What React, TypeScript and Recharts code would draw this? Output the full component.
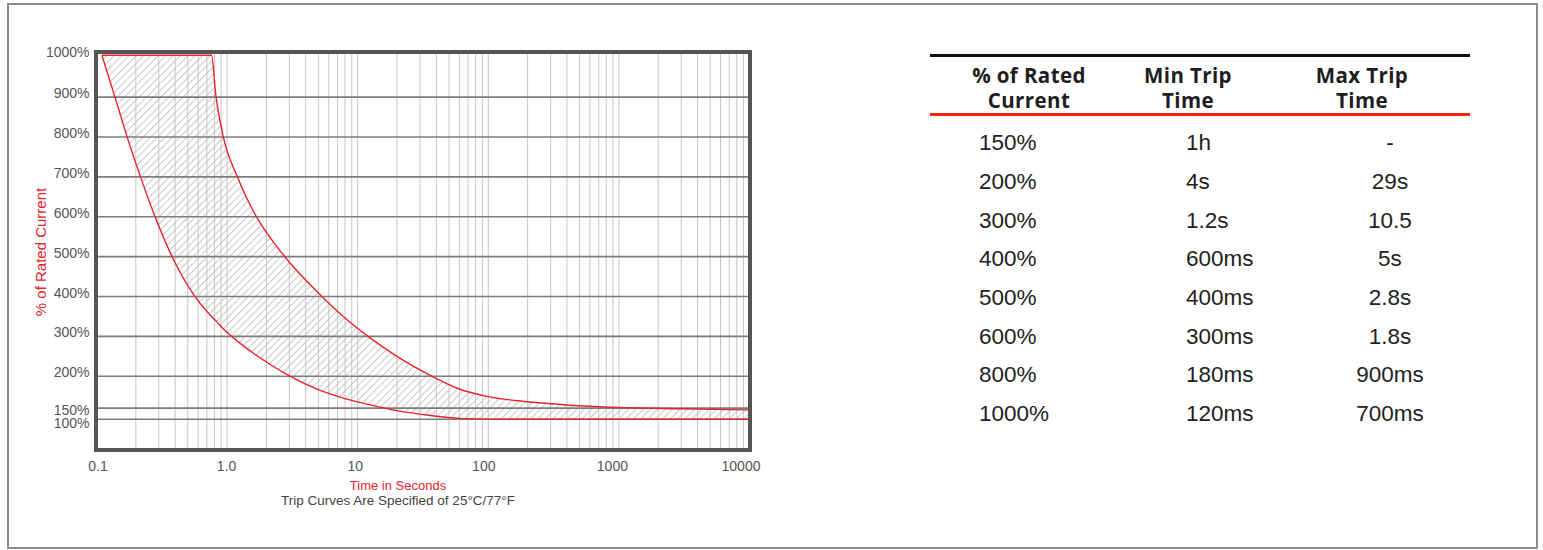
import React from "react";
import { Area, ComposedChart, Line, ReferenceLine, XAxis, YAxis } from "recharts";

const TIMES = [0.11, 0.14, 0.18, 0.22, 0.28, 0.38, 0.57, 0.76, 0.82, 0.93, 1.2, 1.6, 2.2, 3, 5, 8, 12, 20, 35, 60, 100, 200, 400, 1000, 3000, 10000];
// % of rated current on the min (left) curve and on the max (right) edge of the band
const MIN_CURVE = [1000, 895, 779, 695, 601, 499, 399, 350, 339, 320, 288, 257, 227, 201, 179, 165, 156, 139, 118, 104, 101, 100, 100, 100, 100, 100];
const MAX_CURVE = [1000, 1000, 1000, 1000, 1000, 1000, 1000, 1000, 905, 804, 700, 612, 542, 486, 409, 346, 300, 250, 204, 180, 168, 160, 155, 151, 147, 142];

const X_TICKS = [0.1, 1, 10, 100, 1000, 10000];
const X_MINOR = [2, 3, 4, 5, 6, 7, 8, 9];

// the y axis is not linear: 100/150/200 are squeezed at the bottom
const PCT_TICKS = [100, 150, 200, 300, 400, 500, 600, 700, 800, 900, 1000];
const PCT_POS = [92, 120, 200, 300, 400, 500, 600, 700, 800, 900, 1005];
const Y_DOMAIN = [15, 1012];

// table
const RATED = ["150%", "200%", "300%", "400%", "500%", "600%", "800%", "1000%"];
const MIN_TRIP = ["1h", "4s", "1.2s", "600ms", "400ms", "300ms", "180ms", "120ms"];
const MAX_TRIP = ["-", "29s", "10.5", "5s", "2.8s", "1.8s", "900ms", "700ms"];

const RED = "#e8232b";
const SANS = "'Liberation Sans', Arial, sans-serif";

const toPos = (pct: number) => {
  for (let i = 1; i < PCT_TICKS.length; i++) {
    if (pct <= PCT_TICKS[i]) {
      const a = PCT_TICKS[i - 1];
      const b = PCT_TICKS[i];
      return PCT_POS[i - 1] + ((pct - a) / (b - a)) * (PCT_POS[i] - PCT_POS[i - 1]);
    }
  }
  return PCT_POS[PCT_POS.length - 1];
};

const data = TIMES.map((t, i) => ({
  t,
  lo: toPos(MIN_CURVE[i]),
  hi: toPos(MAX_CURVE[i]),
  band: [toPos(MIN_CURVE[i]), toPos(MAX_CURVE[i])],
}));

const gridX: number[] = [];
X_TICKS.slice(0, -1).forEach((d) => {
  if (d > 0.1) gridX.push(d);
  X_MINOR.forEach((m) => gridX.push(+(d * m).toPrecision(3)));
});

const YTick = ({ x, y, payload }: any) => {
  const pct = PCT_TICKS[PCT_POS.indexOf(payload.value)];
  const nudge = pct === 1000 ? -3 : pct === 150 ? 2 : pct === 100 ? 4 : -4;
  return (
    <text x={x} y={y + nudge} textAnchor="end" dominantBaseline="central" fontSize={14} fill="#555" fontFamily={SANS}>
      {pct}%
    </text>
  );
};

// labels sit a little left of their decade line, more so to the right
const XTick = ({ x, y, payload }: any) => {
  const k = X_TICKS.indexOf(payload.value);
  return (
    <text x={x + 1.5 - 2 * k} y={y} dy="0.71em" textAnchor="middle" fontSize={14} fill="#555" fontFamily={SANS}>
      {payload.value === 0.1 ? "0.1" : payload.value === 1 ? "1.0" : payload.value}
    </text>
  );
};

const TripChart = () => (
  <div style={{ position: "absolute", left: 0, top: 0 }}>
    <ComposedChart width={800} height={500} data={data} margin={{ top: 52.5, right: 50.5, bottom: 0, left: 0 }}>
      <defs>
        <pattern id="hatch" patternUnits="userSpaceOnUse" width={5.2} height={10} patternTransform="rotate(45)">
          <line x1={0.5} y1={0} x2={0.5} y2={10} stroke="#a2a2a2" strokeWidth={1} />
        </pattern>
      </defs>
      <XAxis
        dataKey="t"
        type="number"
        scale="log"
        domain={[0.1, 10000]}
        ticks={X_TICKS}
        interval={0}
        allowDataOverflow
        axisLine={false}
        tickLine={false}
        tickSize={0}
        tickMargin={11}
        height={50}
        tick={<XTick />}
      />
      <YAxis
        type="number"
        domain={Y_DOMAIN}
        ticks={PCT_TICKS.map(toPos)}
        interval={0}
        allowDataOverflow
        axisLine={false}
        tickLine={false}
        tickSize={0}
        tickMargin={7}
        width={96.5}
        tick={<YTick />}
      />
      {gridX.map((v) => (
        <ReferenceLine key={"x" + v} x={v} stroke="#c6c6c6" strokeWidth={1} />
      ))}
      {PCT_TICKS.slice(0, -1).map((p) => (
        <ReferenceLine key={"y" + p} y={toPos(p)} stroke="#7d7d7d" strokeWidth={1.6} />
      ))}
      <Area dataKey="band" type="monotone" stroke="none" fill="url(#hatch)" isAnimationActive={false} />
      <Line dataKey="lo" type="monotone" stroke={RED} strokeWidth={1.4} dot={false} isAnimationActive={false} />
      <Line dataKey="hi" type="monotone" stroke={RED} strokeWidth={1.4} dot={false} isAnimationActive={false} />
    </ComposedChart>
    <div
      style={{
        position: "absolute", left: 94.25, top: 50.25, width: 657.5, height: 402,
        border: "4.5px solid #555", boxSizing: "border-box", pointerEvents: "none",
      }}
    />
    <div
      style={{
        position: "absolute", left: 40, top: 252, transform: "translate(-50%, -50%) rotate(-90deg)",
        whiteSpace: "nowrap", color: RED, fontSize: 15, fontFamily: SANS,
      }}
    >
      % of Rated Current
    </div>
    <div style={{ position: "absolute", left: 198, width: 400, top: 478, textAlign: "center", color: RED, fontSize: 13, fontFamily: SANS }}>
      Time in Seconds
    </div>
    <div style={{ position: "absolute", left: 198, width: 400, top: 493, textAlign: "center", color: "#444", fontSize: 13.5, fontFamily: SANS }}>
      Trip Curves Are Specified of 25°C/77°F
    </div>
  </div>
);

const ROW_TOP = 130.2;
const ROW_STEP = 38.7;
const cell = { position: "absolute" as const, fontSize: 22.5, lineHeight: "26px", fontFamily: SANS, color: "#222", whiteSpace: "nowrap" as const };

const TripTable = () => (
  <div style={{ position: "absolute", left: 930, top: 0, width: 540 }}>
    <div style={{ position: "absolute", top: 53.5, left: 0, width: 540, height: 3, background: "#111" }} />
    {[
      ["% of Rated", "Current", 1029],
      ["Min Trip", "Time", 1188],
      ["Max Trip", "Time", 1362],
    ].map(([a, b, cx]) => (
      <div
        key={a as string}
        style={{
          position: "absolute", left: (cx as number) - 930 - 100, width: 200, top: 62.5, textAlign: "center",
          fontFamily: "'Open Sans', sans-serif", fontWeight: 700, fontSize: 20.5, letterSpacing: 0.4,
          lineHeight: "25px", color: "#1e1e1e",
        }}
      >
        {a}
        <br />
        {b}
      </div>
    ))}
    <div style={{ position: "absolute", top: 112.5, left: 0, width: 540, height: 3, background: "#f0260f" }} />
    {RATED.map((r, i) => (
      <React.Fragment key={r}>
        <div style={{ ...cell, left: 979 - 930, top: ROW_TOP + i * ROW_STEP }}>{r}</div>
        <div style={{ ...cell, left: 1186 - 930, top: ROW_TOP + i * ROW_STEP }}>{MIN_TRIP[i]}</div>
        <div style={{ ...cell, left: 1390 - 930 - 60, width: 120, textAlign: "center", top: ROW_TOP + i * ROW_STEP }}>{MAX_TRIP[i]}</div>
      </React.Fragment>
    ))}
  </div>
);

export default function App() {
  return (
    <div style={{ position: "absolute", left: 0, top: 0, width: 1543, height: 550, background: "#fff", overflow: "hidden" }}>
      <div style={{ position: "absolute", left: 7, top: 3, width: 1531, height: 546, border: "2px solid #8a8a8a", boxSizing: "border-box" }} />
      <TripChart />
      <TripTable />
    </div>
  );
}
